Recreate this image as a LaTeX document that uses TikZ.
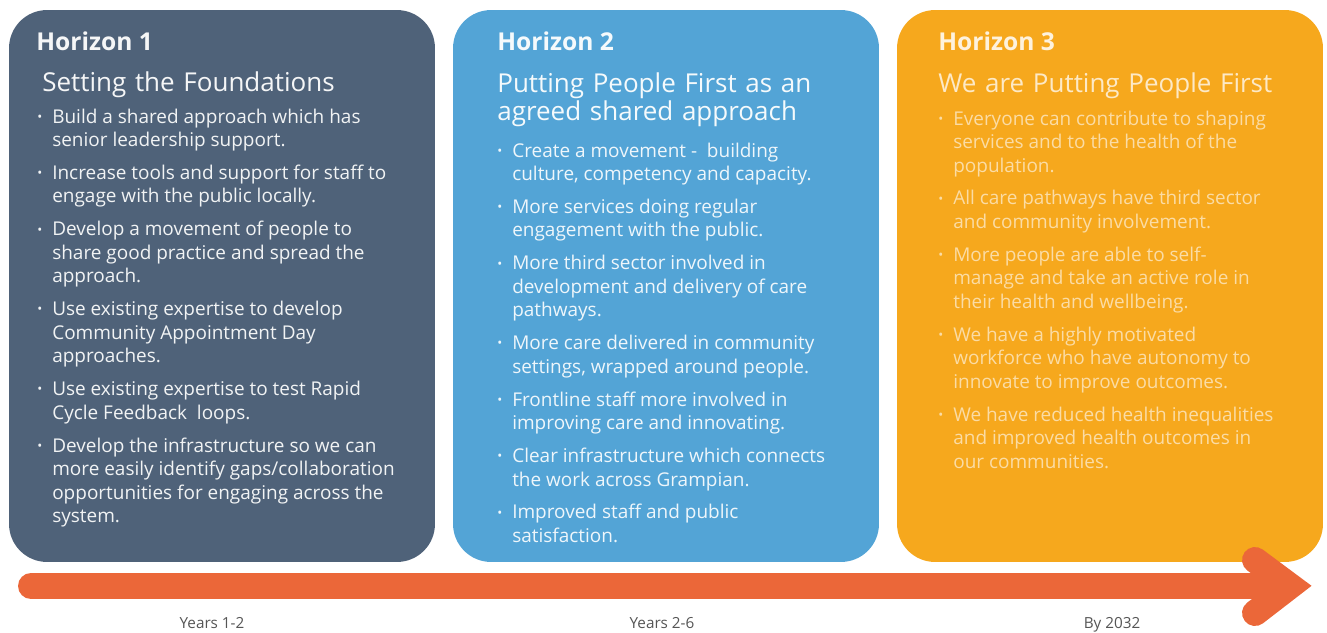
\documentclass[tikz,border=0pt]{standalone}
\usepackage{fontspec}
\setmainfont{Open Sans}

\definecolor{slate}{HTML}{4F6279}
\definecolor{sky}{HTML}{53A4D6}
\definecolor{amber}{HTML}{F6A81D}
\definecolor{flame}{HTML}{EB6739}
\definecolor{labelgray}{HTML}{555555}

% bullet point with hanging indent
\newlength{\bulletgap}
\setlength{\bulletgap}{8.5pt}
\newcommand{\hitem}[1]{\par\hangindent=\bulletgap\hangafter=1\noindent
  \makebox[\bulletgap][l]{\raisebox{1pt}{\fontsize{7.5}{7.5}\selectfont\textbullet}}#1\par\vspace{5.3pt}}
% list of points, top aligned on the first baseline
\newcommand{\hpoints}[1]{\begin{minipage}[t]{7.9cm}#1\end{minipage}}

\begin{document}
\begin{tikzpicture}[x=0.02cm, y=-0.02cm,
    horizon/.style={rounded corners=0.76cm, minimum width=8.52cm, minimum height=11.04cm, inner sep=0},
    htitle/.style={anchor=base west, inner sep=0, font=\fontsize{14}{16}\selectfont\bfseries},
    hsub/.style={anchor=base west, inner sep=0, text width=8cm, align=left, font=\fontsize{14.8}{16.3}\selectfont},
    hlist/.style={anchor=base west, inner sep=0, font=\fontsize{10.8}{13.4}\selectfont},
    years/.style={anchor=base, inner sep=0, text=labelgray, font=\fontsize{8.7}{10}\selectfont}]
    \useasboundingbox (0,0) rectangle (1327,632);

    % The three horizons
    \node[horizon, fill=slate] (h1) at (222,286) {};
    \node[horizon, fill=sky] (h2) at (666,286) {};
    \node[horizon, fill=amber] (h3) at (1110,286) {};

    % Horizon 1
    \node[htitle, text=white!94!slate] (h1title) at (36,50) {Horizon 1};
    \node[hsub, text=white!94!slate] (h1sub) at (42,91) {Setting the Foundations};
    \node[hlist, text=white!92!slate] (h1list) at (37,123) {\hpoints{%
        \hitem{Build a shared approach which has\\ senior leadership support.}
        \hitem{Increase tools and support for staff to\\ engage with the public locally.}
        \hitem{Develop a movement of people to\\ share good practice and spread the\\ approach.}
        \hitem{Use existing expertise to develop\\ Community Appointment Day\\ approaches.}
        \hitem{Use existing expertise to test Rapid\\ Cycle Feedback~ loops.}
        \hitem{Develop the infrastructure so we can\\ more easily identify gaps/collaboration\\ opportunities for engaging across the\\ system.}}};

    % Horizon 2
    \node[htitle, text=white!94!sky] (h2title) at (497,50) {Horizon 2};
    \node[hsub, text=white!94!sky] (h2sub) at (497,92)
        {Putting People First as an\\ agreed shared approach};
    \node[hlist, text=white!90!sky] (h2list) at (497,157) {\hpoints{%
        \hitem{Create a movement -~ building\\ culture, competency and capacity.}
        \hitem{More services doing regular\\ engagement with the public.}
        \hitem{More third sector involved in\\ development and delivery of care\\ pathways.}
        \hitem{More care delivered in community\\ settings, wrapped around people.}
        \hitem{Frontline staff more involved in\\ improving care and innovating.}
        \hitem{Clear infrastructure which connects\\ the work across Grampian.}
        \hitem{Improved staff and public\\ satisfaction.}}};

    % Horizon 3
    \node[htitle, text=white!85!amber] (h3title) at (938,50) {Horizon 3};
    \node[hsub, text=white!75!amber] (h3sub) at (938,92) {We are Putting People First};
    \node[hlist, text=white!60!amber] (h3list) at (938,125) {\hpoints{%
        \hitem{Everyone can contribute to shaping\\ services and to the health of the\\ population.}
        \hitem{All care pathways have third sector\\ and community involvement.}
        \hitem{More people are able to self-\\ manage and take an active role in\\ their health and wellbeing.}
        \hitem{We have a highly motivated\\ workforce who have autonomy to\\ innovate to improve outcomes.}
        \hitem{We have reduced health inequalities\\ and improved health outcomes in\\ our communities.}}};

    % Time arrow
    \coordinate (tail) at (31,586);
    \coordinate (barend) at (1282,586);
    \coordinate (head) at (1290,586);
    \coordinate (armup) at (1255,560);
    \coordinate (armdown) at (1255,613);
    \draw[flame, line width=0.52cm, line cap=round] (tail) -- (barend);
    \draw[flame, line width=0.52cm, line cap=round, line join=miter] (armup) -- (head) -- (armdown);

    % Time labels
    \node[years] (y1) at (212,628) {Years 1-2};
    \node[years] (y2) at (662,628) {Years 2-6};
    \node[years] (y3) at (1112,628) {By 2032};
\end{tikzpicture}
\end{document}
